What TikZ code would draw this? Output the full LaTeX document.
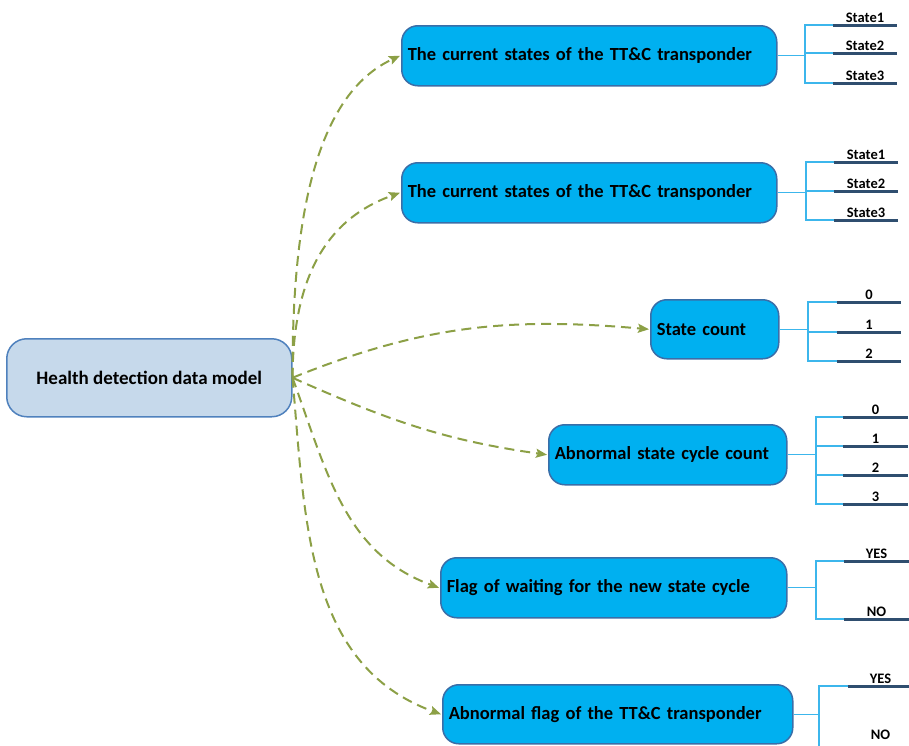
\documentclass[tikz,border=0pt]{standalone}
\usepackage{fontspec}
\setmainfont{Carlito}
\usetikzlibrary{arrows.meta}
\definecolor{boxfill}{RGB}{0,176,240}
\definecolor{boxline}{RGB}{58,110,168}
\definecolor{mainfill}{RGB}{198,217,235}
\definecolor{mainline}{RGB}{79,129,189}
\definecolor{arrgreen}{RGB}{140,160,70}
\definecolor{brline}{RGB}{60,182,236}
\definecolor{leafline}{RGB}{47,78,111}
\tikzset{
  box/.style={draw=boxline, line width=1.5pt, fill=boxfill, rounded corners=16pt,
    anchor=north west, inner xsep=6pt, inner ysep=0pt, align=left,
    font=\fontsize{18.5}{22}\selectfont\bfseries},
  mainbox/.style={draw=mainline, line width=1.5pt, fill=mainfill, rounded corners=20pt,
    anchor=north west, minimum width=285pt, minimum height=78pt, inner sep=0pt,
    font=\fontsize{19}{22}\selectfont\bfseries},
  arr/.style={draw=arrgreen, line width=2pt, dash pattern=on 10pt off 6pt,
    -{Stealth[length=11pt,width=9pt,inset=2pt]}},
  br/.style={draw=brline, line width=1.3pt},
  leaf/.style={anchor=south, minimum width=64pt, inner xsep=0pt, inner ysep=2.5pt,
    font=\fontsize{14.5}{16}\selectfont\bfseries},
  leafbar/.style={draw=leafline, line width=3pt}
}
\begin{document}
\begin{tikzpicture}[x=1pt,y=-1pt]
\useasboundingbox (0,0) rectangle (909,745);
\clip (0,0) rectangle (909,745);

\node[mainbox] (m) at (6,338) {Health detection data model};

\node[box, text width=363pt, minimum height=60pt] (n1) at (401,25) {The current states of the TT\&C transponder};
\node[box, text width=363pt, minimum height=60pt] (n2) at (401,162) {The current states of the TT\&C transponder};
\node[box, text width=116pt, minimum height=59pt] (n3) at (650,299) {State count};
\node[box, text width=226pt, minimum height=60pt] (n4) at (548,424) {Abnormal state cycle count};
\node[box, text width=334pt, minimum height=60pt] (n5) at (440,557) {Flag of waiting for the new state cycle};
\node[box, text width=338pt, minimum height=59pt] (n6) at (442,684) {Abnormal flag of the TT\&C transponder};

% arrows
\draw[arr] (m.east) .. controls (292,220) and (315,95) .. ([xshift=-1pt]n1.west);
\draw[arr] (m.east) .. controls (293,290) and (318,222) .. ([xshift=-1pt]n2.west);
\draw[arr] (m.east) to[out=22,in=175] ([xshift=-1pt]n3.west);
\draw[arr] (m.east) to[out=-24,in=172] ([xshift=-1pt]n4.west);
\draw[arr] (m.east) to[out=-70,in=160] ([xshift=-1pt]n5.west);
\draw[arr] (m.east) to[out=-85,in=160] ([xshift=-1pt]n6.west);

% leaves group 1
\node[leaf] (a1) at (865,25) {State1};
\node[leaf] (a2) at (865,53) {State2};
\node[leaf] (a3) at (865,83) {State3};
% group 2
\node[leaf] (b1) at (866,162) {State1};
\node[leaf] (b2) at (866,191) {State2};
\node[leaf] (b3) at (866,220) {State3};
% group 3
\node[leaf] (c1) at (869,302) {0};
\node[leaf] (c2) at (869,332) {1};
\node[leaf] (c3) at (869,361) {2};
% group 4
\node[leaf, minimum width=65pt] (d1) at (875.5,417) {0};
\node[leaf, minimum width=65pt] (d2) at (875.5,446) {1};
\node[leaf, minimum width=65pt] (d3) at (875.5,475) {2};
\node[leaf, minimum width=65pt] (d4) at (875.5,504) {3};
% group 5
\node[leaf, minimum width=65pt] (e1) at (876.5,561) {YES};
\node[leaf, minimum width=65pt] (e2) at (876.5,619) {NO};
% group 6
\node[leaf, minimum width=65pt] (f1) at (880.5,686) {YES};
\node[leaf, minimum width=65pt] (f2) at (880.5,742) {NO};

\foreach \l in {a1,a2,a3,b1,b2,b3,c1,c2,c3,d1,d2,d3,d4,e1,e2,f1}
  \draw[leafbar] (\l.south west) -- (\l.south east);
\draw[leafbar] ([yshift=-6pt]f2.south west) -- ([yshift=-6pt]f2.south east);

% branches
\draw[br] (n1.east) -- (805,0 |- n1.east);
\draw[br] (a1.south west) -- (805,25) -- (805,83) -- (a3.south west);
\draw[br] (a2.south west) -- (805,53);

\draw[br] (n2.east) -- (806,0 |- n2.east);
\draw[br] (b1.south west) -- (806,162) -- (806,220) -- (b3.south west);
\draw[br] (b2.south west) -- (806,191);

\draw[br] (n3.east) -- (808,0 |- n3.east);
\draw[br] (c1.south west) -- (808,302) -- (808,361) -- (c3.south west);
\draw[br] (c2.south west) -- (808,332);

\draw[br] (n4.east) -- (816,0 |- n4.east);
\draw[br] (d1.south west) -- (816,417) -- (816,504) -- (d4.south west);
\draw[br] (d2.south west) -- (816,446);
\draw[br] (d3.south west) -- (816,475);

\draw[br] (n5.east) -- (816,0 |- n5.east);
\draw[br] (e1.south west) -- (816,561) -- (816,619) -- (e2.south west);

\draw[br] (n6.east) -- (819,0 |- n6.east);
\draw[br] (f1.south west) -- (819,686) -- (819,748) -- ([yshift=-6pt]f2.south west);
\end{tikzpicture}
\end{document}
